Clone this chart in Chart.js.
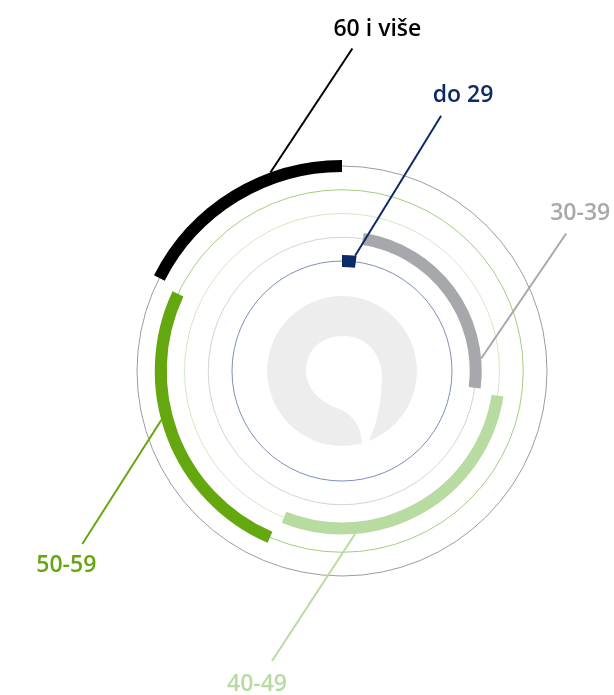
<!DOCTYPE html>
<html>
<head>
<meta charset="utf-8">
<script src="https://cdn.jsdelivr.net/npm/chart.js@4/dist/chart.umd.min.js"></script>
<style>
  html, body { margin: 0; padding: 0; background: #fff; }
  #wrap { width: 614px; height: 695px; position: relative; }
</style>
</head>
<body>
<div id="wrap"><canvas id="ageChart"></canvas></div>
<script>
// age groups, share in %
const categories = ['do 29', '30-39', '40-49', '50-59', '60 i više'];
const shares = [2, 25, 29, 26, 18];

const arcColors = ['#0c2a66', '#a7a8ab', '#b7dba0', '#64a70f', '#000000'];
const circleColors = ['#7d8fb8', '#d4d4d4', '#d3e8c5', '#a3cd7e', '#9c9c9c'];
// where the leader line leaves each arc (fraction of the arc), line vector, label offset from line end
const anchorFrac = [0.9, 0.86, 0.745, 0.56, 0.685];
const leaderVec = [[86, -140], [85, -125], [-83, 127], [-79, 124], [82, -124]];
const labelOffset = [[22, -20], [14, -20], [-15, 23], [-16, 21], [25, -19]];

const RING = 12;
const GAP = 11.75;
const ARC_GAP = 0.5; // small empty bit before each arc (same units as shares)
const TOTAL = shares.reduce((a, b) => a + b, 0);

// one ring per age group, outermost first; spacer rings between
const datasets = [];
const ringIndex = [];
for (let i = categories.length - 1; i >= 0; i--) {
  const before = shares.slice(0, i).reduce((a, b) => a + b, 0);
  const g = i > 0 ? ARC_GAP : 0;
  ringIndex[i] = datasets.length;
  datasets.push({
    label: categories[i],
    data: [before + g, shares[i] - g, TOTAL - before - shares[i]],
    backgroundColor: ['rgba(0,0,0,0)', arcColors[i], 'rgba(0,0,0,0)'],
    borderWidth: 0,
    hoverOffset: 0,
    weight: RING
  });
  if (i > 0) {
    datasets.push({
      label: 'spacer',
      data: [TOTAL],
      backgroundColor: ['rgba(0,0,0,0)'],
      borderWidth: 0,
      hoverOffset: 0,
      weight: GAP
    });
  }
}

const ringsPlugin = {
  id: 'ringsAndLogo',
  beforeDatasetsDraw(chart) {
    const ctx = chart.ctx;
    const inner = chart.getDatasetMeta(ringIndex[0]).data[1];
    const cx = inner.x, cy = inner.y;

    // grey disc with the white drop in the middle
    const s = inner.innerRadius * 0.72 / 75;
    ctx.save();
    ctx.fillStyle = '#ecedec';
    ctx.beginPath();
    ctx.arc(cx, cy, 75 * s, 0, Math.PI * 2);
    ctx.fill();
    ctx.translate(cx, cy);
    ctx.scale(s, s);
    ctx.fillStyle = '#ffffff';
    ctx.beginPath();
    ctx.moveTo(20, 74);
    ctx.bezierCurveTo(20, 55, 10, 42, -5, 37);
    ctx.bezierCurveTo(-25, 30, -36, 15, -36, 0);
    ctx.bezierCurveTo(-36, -22, -20, -35, 2, -35);
    ctx.bezierCurveTo(26, -35, 40, -15, 40, 5);
    ctx.bezierCurveTo(40, 30, 35, 55, 25, 74);
    ctx.closePath();
    ctx.fill();
    ctx.restore();

    // thin guide circles through the middle of each ring
    ctx.save();
    ctx.lineWidth = 1;
    categories.forEach((c, i) => {
      const arc = chart.getDatasetMeta(ringIndex[i]).data[1];
      ctx.strokeStyle = circleColors[i];
      ctx.beginPath();
      ctx.arc(arc.x, arc.y, (arc.innerRadius + arc.outerRadius) / 2, 0, Math.PI * 2);
      ctx.stroke();
    });
    ctx.restore();
  },
  afterDatasetsDraw(chart) {
    const ctx = chart.ctx;
    ctx.save();
    ctx.font = '600 23px "Open Sans", "Noto Sans", sans-serif';
    ctx.textAlign = 'center';
    ctx.textBaseline = 'middle';
    categories.forEach((c, i) => {
      const arc = chart.getDatasetMeta(ringIndex[i]).data[1];
      const a = arc.startAngle + anchorFrac[i] * (arc.endAngle - arc.startAngle);
      const x0 = arc.x + arc.outerRadius * Math.cos(a);
      const y0 = arc.y + arc.outerRadius * Math.sin(a);
      const x1 = x0 + leaderVec[i][0];
      const y1 = y0 + leaderVec[i][1];
      ctx.strokeStyle = arcColors[i];
      ctx.lineWidth = 2;
      ctx.beginPath();
      ctx.moveTo(x0, y0);
      ctx.lineTo(x1, y1);
      ctx.stroke();
      ctx.fillStyle = arcColors[i];
      ctx.fillText(c, x1 + labelOffset[i][0], y1 + labelOffset[i][1]);
    });
    ctx.restore();
  }
};

new Chart(document.getElementById('ageChart'), {
  type: 'doughnut',
  data: { labels: ['before', 'value', 'after'], datasets: datasets },
  options: {
    responsive: true,
    maintainAspectRatio: false,
    animation: false,
    events: [],
    cutout: 104,
    layout: { padding: { left: 131, right: 61, top: 160, bottom: 113 } },
    plugins: { legend: { display: false }, tooltip: { enabled: false } }
  },
  plugins: [ringsPlugin]
});
</script>
</body>
</html>
